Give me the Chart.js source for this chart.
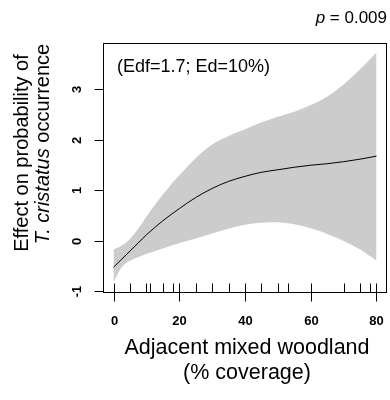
<!DOCTYPE html>
<html><head><meta charset="utf-8">
<script src="https://cdn.jsdelivr.net/npm/chart.js@4"></script>
<style>html,body{margin:0;padding:0;background:#fff}#wrap{width:390px;height:400px}</style>
</head><body><div id="wrap"><canvas id="c" width="390" height="400"></canvas></div>
<script>
// ---- data ----
const woodland  = [0, 2.5, 5, 7.5, 10, 15, 20, 25, 30, 35, 40, 45, 50, 55, 60, 65, 70, 75, 80];
const effectFit = [-0.52, -0.36, -0.20, -0.04, 0.12, 0.40, 0.64, 0.86, 1.04, 1.18, 1.28, 1.36, 1.41, 1.46, 1.50, 1.53, 1.57, 1.62, 1.68];
const upperCI   = [-0.17, -0.09, 0.04, 0.24, 0.48, 0.92, 1.30, 1.64, 1.91, 2.08, 2.21, 2.35, 2.46, 2.56, 2.69, 2.86, 3.10, 3.40, 3.73];
const lowerCI   = [-0.81, -0.52, -0.39, -0.32, -0.26, -0.15, -0.04, 0.05, 0.15, 0.24, 0.32, 0.36, 0.37, 0.33, 0.25, 0.14, 0.00, -0.17, -0.39];
const rugValues = [0, 5, 10, 11, 15, 18, 20, 25, 30, 35, 40, 45, 50, 53, 60, 70, 75, 78, 80];
const xTicks = [0, 20, 40, 60, 80];
const yTicks = [-1, 0, 1, 2, 3];
const xTitle = ['Adjacent mixed woodland', '(% coverage)'];
const yTitle1 = 'Effect on probability of';
const yTitle2 = ['T. cristatus', ' occurrence'];
const annotation = '(Edf=1.7; Ed=10%)';
const pLabel = ['p', ' = 0.009'];

const pts = ys => woodland.map((x, i) => ({x, y: ys[i]}));
const FONT = '"Liberation Sans", Arial, sans-serif';

const rPlot = {
  id: 'rPlot',
  afterDraw(chart) {
    const {ctx, chartArea: a, scales: {x, y}} = chart;
    ctx.save();
    ctx.strokeStyle = '#000';
    ctx.fillStyle = '#000';
    ctx.lineWidth = 1;
    const L = Math.round(a.left) + 0.5, R = Math.round(a.right) - 0.5;
    const T = Math.round(a.top) + 0.5, B = Math.round(a.bottom) - 0.5;
    ctx.strokeRect(L, T, R - L, B - T);

    // y ticks + rotated labels
    ctx.font = 'bold 13px ' + FONT;
    ctx.textAlign = 'center';
    ctx.textBaseline = 'middle';
    yTicks.forEach(v => {
      const py = Math.round(y.getPixelForValue(v)) + 0.5;
      ctx.beginPath(); ctx.moveTo(L - 9, py); ctx.lineTo(L, py); ctx.stroke();
      ctx.save(); ctx.translate(77, py); ctx.rotate(-Math.PI / 2);
      ctx.fillText(String(v), 0, 0); ctx.restore();
    });
    // x ticks + labels
    xTicks.forEach(v => {
      const px = Math.round(x.getPixelForValue(v)) + 0.5;
      ctx.beginPath(); ctx.moveTo(px, B); ctx.lineTo(px, B + 9); ctx.stroke();
      ctx.fillText(String(v), px, 321);
    });
    // rug
    rugValues.forEach(v => {
      const px = Math.round(x.getPixelForValue(v)) + 0.5;
      ctx.beginPath(); ctx.moveTo(px, B); ctx.lineTo(px, B - 9); ctx.stroke();
    });

    // x title
    ctx.font = '21.5px ' + FONT;
    ctx.textBaseline = 'alphabetic';
    ctx.fillText(xTitle[0], 247, 354);
    ctx.fillText(xTitle[1], 247, 379);

    // y title
    ctx.font = '20px ' + FONT;
    ctx.save(); ctx.translate(28, 153); ctx.rotate(-Math.PI / 2);
    ctx.fillText(yTitle1, 0, 0); ctx.restore();
    ctx.save(); ctx.translate(49, 144); ctx.rotate(-Math.PI / 2);
    ctx.font = 'italic 20px ' + FONT;
    const w1 = ctx.measureText(yTitle2[0]).width;
    ctx.font = '20px ' + FONT;
    const w2 = ctx.measureText(yTitle2[1]).width;
    const start = -(w1 + w2) / 2;
    ctx.textAlign = 'left';
    ctx.font = 'italic 20px ' + FONT;
    ctx.fillText(yTitle2[0], start, 0);
    ctx.font = '20px ' + FONT;
    ctx.fillText(yTitle2[1], start + w1, 0);
    ctx.restore();

    // annotation inside
    ctx.textAlign = 'left';
    ctx.font = '18px ' + FONT;
    ctx.fillText(annotation, 117, 72);

    // p value
    ctx.font = '17px ' + FONT;
    const wp2 = ctx.measureText(pLabel[1]).width;
    ctx.font = 'italic 17px ' + FONT;
    const wp1 = ctx.measureText(pLabel[0]).width;
    const pStart = 387 - wp1 - wp2;
    ctx.fillText(pLabel[0], pStart, 23);
    ctx.font = '17px ' + FONT;
    ctx.fillText(pLabel[1], pStart + wp1, 23);
    ctx.restore();
  }
};

new Chart(document.getElementById('c'), {
  type: 'line',
  data: {
    datasets: [
      {label: 'lower', data: pts(lowerCI), borderWidth: 0, pointRadius: 0, fill: false, order: 2,
       borderColor: 'rgba(0,0,0,0)', cubicInterpolationMode: 'monotone'},
      {label: 'upper', data: pts(upperCI), borderWidth: 0, pointRadius: 0, fill: 0, order: 1,
       borderColor: 'rgba(0,0,0,0)', backgroundColor: '#cccccc', cubicInterpolationMode: 'monotone'},
      {label: 'fit', data: pts(effectFit), borderWidth: 1, pointRadius: 0, fill: false, order: 0,
       borderColor: '#000', cubicInterpolationMode: 'monotone'}
    ]
  },
  options: {
    responsive: false,
    animation: false,
    devicePixelRatio: 1,
    layout: {padding: {left: 103, right: 3, top: 43, bottom: 107}},
    plugins: {legend: {display: false}, tooltip: {enabled: false}, title: {display: false},
              filler: {drawTime: 'beforeDatasetsDraw'}},
    scales: {
      x: {type: 'linear', min: -3.2, max: 83.2, display: false},
      y: {type: 'linear', min: -1.03, max: 3.92, display: false}
    }
  },
  plugins: [rPlot]
});
</script>
</body></html>
